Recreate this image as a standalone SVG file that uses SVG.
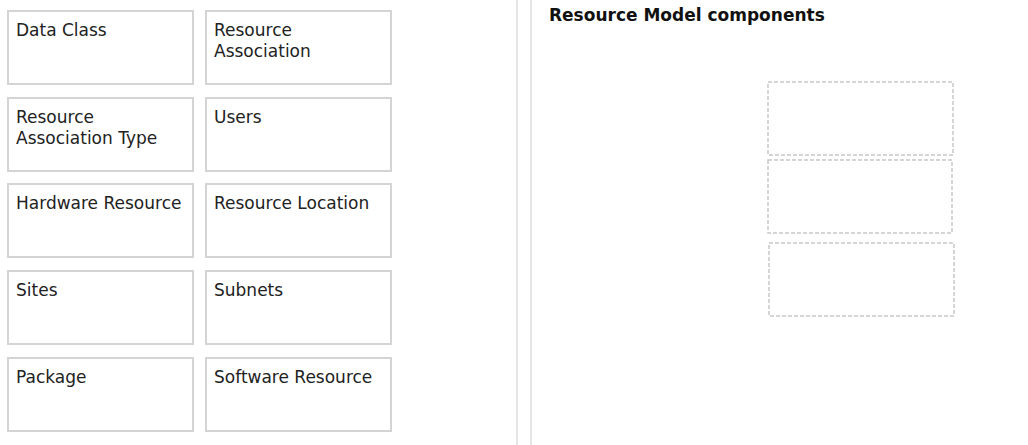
<svg xmlns="http://www.w3.org/2000/svg" width="1028" height="445" viewBox="0 0 1028 445">
<style>
.box{fill:#fff;stroke:#d4d4d4;stroke-width:2}
.lbl{font-family:"DejaVu Sans",Verdana,sans-serif;font-size:17px;fill:#222}
.head{font-family:"DejaVu Sans",Verdana,sans-serif;font-size:17px;font-weight:bold;fill:#111}
.slot{fill:none;stroke:#c8c8c8;stroke-width:1.5;stroke-dasharray:4 2}
.div{stroke:#dcdcdc;stroke-width:1.5}
</style>
<rect width="1028" height="445" fill="#fff"/>
<line class="div" x1="517" y1="0" x2="517" y2="445"/>
<line class="div" x1="531" y1="0" x2="531" y2="445"/>
<g id="n-dataclass"><rect class="box" x="8" y="11" width="185" height="73"/><text class="lbl" x="16" y="36">Data Class</text></g>
<g id="n-resassoc"><rect class="box" x="206" y="11" width="185" height="73"/><text class="lbl" x="214" y="36">Resource</text><text class="lbl" x="214" y="57">Association</text></g>
<g id="n-resassoctype"><rect class="box" x="8" y="98" width="185" height="73"/><text class="lbl" x="16" y="123">Resource</text><text class="lbl" x="16" y="144">Association Type</text></g>
<g id="n-users"><rect class="box" x="206" y="98" width="185" height="73"/><text class="lbl" x="214" y="123">Users</text></g>
<g id="n-hardware"><rect class="box" x="8" y="184" width="185" height="73"/><text class="lbl" x="16" y="209">Hardware Resource</text></g>
<g id="n-location"><rect class="box" x="206" y="184" width="185" height="73"/><text class="lbl" x="214" y="209">Resource Location</text></g>
<g id="n-sites"><rect class="box" x="8" y="271" width="185" height="73"/><text class="lbl" x="16" y="296">Sites</text></g>
<g id="n-subnets"><rect class="box" x="206" y="271" width="185" height="73"/><text class="lbl" x="214" y="296">Subnets</text></g>
<g id="n-package"><rect class="box" x="8" y="358" width="185" height="73"/><text class="lbl" x="16" y="383">Package</text></g>
<g id="n-software"><rect class="box" x="206" y="358" width="185" height="73"/><text class="lbl" x="214" y="383">Software Resource</text></g>
<g id="heading"><text class="head" x="549" y="21">Resource Model components</text></g>
<g id="slot1"><rect class="slot" x="768" y="82" width="185" height="73"/></g>
<g id="slot2"><rect class="slot" x="768" y="160" width="184" height="73"/></g>
<g id="slot3"><rect class="slot" x="769" y="243" width="185" height="73"/></g>
<g id="connectors"></g>
</svg>
